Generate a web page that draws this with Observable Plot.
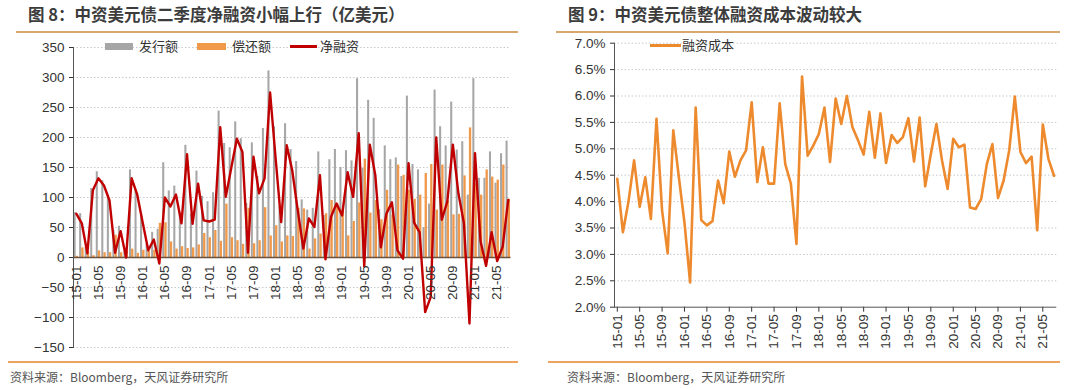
<!DOCTYPE html>
<html><head><meta charset="utf-8">
<script src="https://cdn.jsdelivr.net/npm/d3@7"></script>
<script src="https://cdn.jsdelivr.net/npm/@observablehq/plot@0.6"></script>
<style>
body{margin:0;background:#fff;width:1080px;height:390px;overflow:hidden;position:relative;font-family:"Liberation Sans","Noto Sans CJK SC",sans-serif;}
.title{position:absolute;top:3px;font-size:16.5px;line-height:22px;font-weight:bold;color:#3c3c3c;font-family:"Noto Sans CJK SC",sans-serif;white-space:nowrap;}
.rtop{position:absolute;top:31px;height:2px;background:#D9A66E;}
.rbot{position:absolute;top:361px;height:2px;background:#F0A35E;}
.source{position:absolute;top:369px;font-size:12px;line-height:16px;color:#555;font-family:"Noto Sans CJK SC",sans-serif;white-space:nowrap;}
.chart{position:absolute;top:35px;}
.lg{position:absolute;font-size:13px;line-height:16px;color:#333;font-family:"Noto Sans CJK SC",sans-serif;white-space:nowrap;}
.sw{position:absolute;}
</style>
</head><body>
<div class="title" style="left:28px">图 8：中资美元债二季度净融资小幅上行（亿美元）</div>
<div class="rtop" style="left:16px;width:502px"></div>
<div class="title" style="left:568px">图 9：中资美元债整体融资成本波动较大</div>
<div class="rtop" style="left:556px;width:504px"></div>
<div id="leftChart" class="chart" style="left:0"></div>
<div id="rightChart" class="chart" style="left:540px"></div>
<div class="sw" style="left:105px;top:43px;width:28px;height:7px;background:#A6A6A6"></div>
<div class="lg" style="left:139px;top:38px">发行额</div>
<div class="sw" style="left:197px;top:43px;width:29px;height:7px;background:#F0994A"></div>
<div class="lg" style="left:232px;top:38px">偿还额</div>
<div class="sw" style="left:290px;top:45px;width:27px;height:3px;background:#C00000"></div>
<div class="lg" style="left:320px;top:38px">净融资</div>
<div class="sw" style="left:650px;top:44px;width:31px;height:3px;background:#EE8A2E"></div>
<div class="lg" style="left:682px;top:37px">融资成本</div>
<div class="rbot" style="left:8px;width:510px"></div>
<div class="rbot" style="left:548px;width:512px"></div>
<div class="source" style="left:10px">资料来源：Bloomberg，天风证券研究所</div>
<div class="source" style="left:567px">资料来源：Bloomberg，天风证券研究所</div>
<script>
const months = ["15-01","15-02","15-03","15-04","15-05","15-06","15-07","15-08","15-09","15-10","15-11","15-12",
"16-01","16-02","16-03","16-04","16-05","16-06","16-07","16-08","16-09","16-10","16-11","16-12",
"17-01","17-02","17-03","17-04","17-05","17-06","17-07","17-08","17-09","17-10","17-11","17-12",
"18-01","18-02","18-03","18-04","18-05","18-06","18-07","18-08","18-09","18-10","18-11","18-12",
"19-01","19-02","19-03","19-04","19-05","19-06","19-07","19-08","19-09","19-10","19-11","19-12",
"20-01","20-02","20-03","20-04","20-05","20-06","20-07","20-08","20-09","20-10","20-11","20-12",
"21-01","21-02","21-03","21-04","21-05","21-06","21-07"];
const xTickLabels = ["15-01","15-05","15-09","16-01","16-05","16-09","17-01","17-05","17-09","18-01","18-05","18-09","19-01","19-05","19-09","20-01","20-05","20-09","21-01","21-05"];
// 发行额 (亿美元)
const issuance = [75,73,17,115,143,128,103,45,52,10,146,112,70,22,42,47,158,111,119,75,187,72,144,102,93,108,
244,190,183,226,198,90,191,135,215,311,218,85,223,180,160,96,79,82,176,70,163,180,150,178,161,298,
149,262,232,80,186,163,166,135,269,155,146,50,89,279,218,186,259,179,193,104,298,132,132,176,124,173,194];
// 偿还额 (亿美元)
const repayment = [2,16,10,3,11,8,8,37,8,10,14,7,12,10,12,57,58,26,14,18,15,16,21,40,33,45,
27,89,33,28,22,82,23,28,83,36,53,26,36,35,82,81,14,31,39,73,95,90,80,36,60,91,
164,74,95,63,112,71,154,137,112,97,104,140,155,79,154,94,71,72,136,216,123,104,146,134,129,154,97];
// 净融资 (亿美元)
const netFinancing = [73,57,7,112,132,120,95,8,44,0,132,105,58,12,30,-10,100,85,105,57,172,56,123,62,60,63,
217,101,150,198,176,8,168,107,132,275,165,59,187,145,78,15,65,51,137,-3,68,90,70,142,101,207,
-15,188,137,17,73,92,12,-2,157,58,42,-91,-66,200,63,93,188,107,57,-110,174,27,-14,42,-6,18,96];
const leftYTicks = [-150,-100,-50,0,50,100,150,200,250,300,350];
// 融资成本 (%)
const financingCost = [4.43,3.42,4.0,4.78,3.90,4.46,3.67,5.57,3.83,3.02,5.35,4.46,3.60,2.47,5.78,3.65,3.55,3.63,4.40,3.97,4.95,4.47,4.78,4.97,
5.88,4.37,5.03,4.34,4.34,5.86,4.71,4.34,3.20,6.37,4.87,5.06,5.28,5.78,4.75,5.95,5.47,6.00,5.41,5.16,4.89,5.70,4.83,5.67,
4.73,5.26,5.11,5.22,5.58,4.76,5.59,4.29,4.90,5.47,4.78,4.24,5.19,5.03,5.08,3.89,3.86,4.05,4.71,5.09,4.07,4.40,4.97,5.99,
4.94,4.73,4.85,3.46,5.46,4.81,4.49];
const rightYTicks = [2.0,2.5,3.0,3.5,4.0,4.5,5.0,5.5,6.0,6.5,7.0];

const rows = months.map((m, i) => ({month: m, issue: issuance[i], repay: repayment[i], net: netFinancing[i], cost: financingCost[i]}));
const font = "Liberation Sans, Arial, sans-serif";

const left = Plot.plot({
  width: 520, height: 320,
  marginLeft: 73, marginRight: 9.5, marginTop: 12, marginBottom: 8,
  style: {fontFamily: font, fontSize: "13.5px", color: "#333", background: "transparent", overflow: "visible"},
  x: {type: "band", domain: months, padding: 0, axis: null},
  y: {domain: [-150, 350], ticks: leftYTicks, tickSize: 4, tickPadding: 5, label: null},
  marks: [
    Plot.ruleY(leftYTicks.filter(d => d !== 0), {stroke: "#c9c9c9", strokeDasharray: "1.5,2"}),
    Plot.barY(rows, {x: "month", y: "issue", fill: "#A6A6A6", insetLeft: 0.6, insetRight: 2.9}),
    Plot.barY(rows, {x: "month", y: "repay", fill: "#F0994A", insetLeft: 2.7, insetRight: 0.5}),
    Plot.ruleY([0], {stroke: "#6e5138", strokeWidth: 1.3}),
    Plot.lineY(rows, {x: "month", y: "net", stroke: "#C00000", strokeWidth: 2.4, strokeLinejoin: "round"}),
    Plot.frame({anchor: "left", stroke: "#555"}),
    Plot.text(xTickLabels, {x: d => d, y: () => 0, text: d => d, rotate: -90, textAnchor: "end", dy: 8, fill: "#333", fontSize: 13.5})
  ]
});
document.getElementById("leftChart").appendChild(left);

const right = Plot.plot({
  width: 540, height: 320,
  marginLeft: 74, marginRight: 23.7, marginTop: 7.7, marginBottom: 48.3,
  style: {fontFamily: font, fontSize: "13.5px", color: "#333", background: "transparent", overflow: "visible"},
  x: {type: "band", domain: months, padding: 0, ticks: xTickLabels, tickRotate: -90, tickSize: 5, tickPadding: 2, label: null},
  y: {domain: [2, 7], ticks: rightYTicks, tickFormat: d => d.toFixed(1) + "%", tickSize: 4, tickPadding: 5, label: null},
  marks: [
    Plot.ruleY(rightYTicks.filter(d => d !== 2), {stroke: "#c9c9c9", strokeDasharray: "1.5,2"}),
    Plot.ruleY([2], {stroke: "#555"}),
    Plot.frame({anchor: "left", stroke: "#555"}),
    Plot.lineY(rows, {x: "month", y: "cost", stroke: "#EE8A2E", strokeWidth: 2.6, strokeLinejoin: "round"})
  ]
});
document.getElementById("rightChart").appendChild(right);
</script>
</body></html>
